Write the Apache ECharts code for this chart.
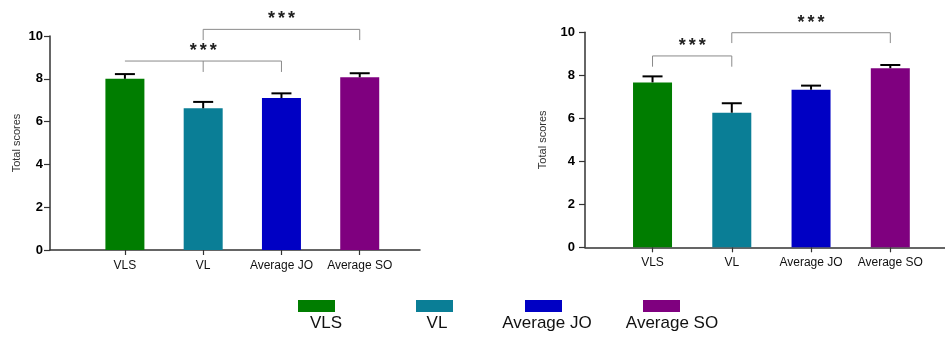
<!DOCTYPE html>
<html>
<head>
<meta charset="utf-8">
<script src="https://cdn.jsdelivr.net/npm/echarts@6/dist/echarts.min.js"></script>
<style>
html,body{margin:0;padding:0;background:#fff;}
#chart{width:945px;height:341px;}
</style>
</head>
<body>
<div id="chart"></div>
<script>
// ---- data ----
const categories = ['VLS', 'VL', 'Average JO', 'Average SO'];
const yTicks = [0, 2, 4, 6, 8, 10];
const leftMeans = [8.0, 6.62, 7.1, 8.07];
const leftUpperErr = [0.22, 0.30, 0.22, 0.19];
const rightMeans = [7.67, 6.26, 7.33, 8.33];
const rightUpperErr = [0.28, 0.44, 0.19, 0.15];
// significance brackets
const leftHLines = [[1, 3, 8.83], [2, 4, 10.31]];
const leftDrops = [[2, 8.83, 8.32], [3, 8.83, 8.32], [2, 10.31, 9.81], [4, 10.31, 9.81]];
const leftStars = [[2, 9.32, '***'], [3, 10.80, '***']];
const rightHLines = [[1, 2, 8.90], [2, 4, 9.98]];
const rightDrops = [[1, 8.90, 8.40], [2, 8.90, 8.40], [2, 9.98, 9.50], [4, 9.98, 9.50]];
const rightStars = [[1.5, 9.38, '***'], [3, 10.45, '***']];

// ---- styles ----
const colors = ['#007d00', '#0a7e96', '#0000c4', '#7f007f'];
const FONT = 'Liberation Sans, Arial, Helvetica, sans-serif';

const chart = echarts.init(document.getElementById('chart'), null, {renderer: 'canvas'});

function xAxisCfg(gridIndex, min, max, margin) {
  return {
    type: 'value', gridIndex, min, max,
    splitLine: {show: false},
    axisLine: {show: true, onZero: false, lineStyle: {color: '#333', width: 1.5}},
    axisTick: {show: true, customValues: [1, 2, 3, 4], length: 5, inside: false, lineStyle: {color: '#333', width: 1.2}},
    axisLabel: {
      customValues: [1, 2, 3, 4],
      formatter: v => categories[Math.round(v) - 1] || '',
      color: '#111', fontSize: 12, fontFamily: FONT, margin
    }
  };
}
function yAxisCfg(gridIndex, nameGap, margin) {
  return {
    type: 'value', gridIndex, min: 0, max: 10, interval: 2,
    name: 'Total scores', nameLocation: 'middle', nameGap,
    nameTextStyle: {color: '#333', fontSize: 11, fontFamily: FONT},
    splitLine: {show: false},
    axisLine: {show: true, lineStyle: {color: '#333', width: 1.5}},
    axisTick: {show: true, length: 6, lineStyle: {color: '#333', width: 1.2}},
    axisLabel: {color: '#000', fontWeight: 'bold', fontSize: 13, fontFamily: FONT, margin,
      formatter: v => yTicks.includes(v) ? String(v) : ''}
  };
}

function barSeries(gridIdx, means) {
  return categories.map((c, i) => ({
    type: 'bar', name: c, xAxisIndex: gridIdx, yAxisIndex: gridIdx,
    data: [[i + 1, means[i]]], barWidth: 39, barGap: '-100%',
    itemStyle: {color: colors[i]}, silent: true
  }));
}
function errSeries(gridIdx, means, errs) {
  return {
    type: 'custom', xAxisIndex: gridIdx, yAxisIndex: gridIdx, z: 5,
    encode: {x: 0, y: [1, 2]},
    data: means.map((m, i) => [i + 1, m, m + errs[i]]),
    renderItem(params, api) {
      const p0 = api.coord([api.value(0), api.value(1)]);
      const p1 = api.coord([api.value(0), api.value(2)]);
      const st = {stroke: '#000', lineWidth: 2};
      return {type: 'group', children: [
        {type: 'line', shape: {x1: p0[0], y1: p0[1], x2: p1[0], y2: p1[1]}, style: st},
        {type: 'line', shape: {x1: p1[0] - 10, y1: p1[1], x2: p1[0] + 10, y2: p1[1]}, style: st}
      ]};
    }
  };
}
function hlineSeries(gridIdx, lines) {
  return {
    type: 'custom', xAxisIndex: gridIdx, yAxisIndex: gridIdx, z: 5, clip: false,
    encode: {x: [0, 1], y: 2}, data: lines,
    renderItem(params, api) {
      const a = api.coord([api.value(0), api.value(2)]);
      const b = api.coord([api.value(1), api.value(2)]);
      return {type: 'line', shape: {x1: a[0], y1: a[1], x2: b[0], y2: b[1]}, style: {stroke: '#8a8a8a', lineWidth: 1}};
    }
  };
}
function dropSeries(gridIdx, drops) {
  return {
    type: 'custom', xAxisIndex: gridIdx, yAxisIndex: gridIdx, z: 5, clip: false,
    encode: {x: 0, y: [1, 2]}, data: drops,
    renderItem(params, api) {
      const a = api.coord([api.value(0), api.value(1)]);
      const b = api.coord([api.value(0), api.value(2)]);
      return {type: 'line', shape: {x1: a[0], y1: a[1], x2: b[0], y2: b[1]}, style: {stroke: '#8a8a8a', lineWidth: 1}};
    }
  };
}
function starSeries(gridIdx, stars) {
  return {
    type: 'custom', xAxisIndex: gridIdx, yAxisIndex: gridIdx, z: 6, clip: false,
    encode: {x: 0, y: 1}, data: stars,
    renderItem(params, api) {
      const p = api.coord([api.value(0), api.value(1)]);
      const txt = stars[params.dataIndex][2].split('').map(ch => '{s|' + ch + '}').join('');
      return {type: 'text', x: p[0], y: p[1], style: {
        text: txt, align: 'center', verticalAlign: 'middle',
        font: 'bold 18px ' + FONT, fill: '#222',
        rich: {s: {font: 'bold 18px ' + FONT, fill: '#222', padding: [0, 1.5, 0, 1.5]}}
      }};
    }
  };
}

const legendLefts = [298, 416, 525, 643];
const legendTextX = [326, 437, 547, 672];

const option = {
  animation: false,
  backgroundColor: '#fff',
  textStyle: {fontFamily: FONT},
  grid: [
    {left: 50, top: 36, bottom: 91, width: 370},
    {left: 585, top: 32.3, bottom: 93.7, right: 0}
  ],
  xAxis: [xAxisCfg(0, 0.043, 4.77, 10), xAxisCfg(1, 0.148, 4.69, 9)],
  yAxis: [yAxisCfg(0, 28, 7), yAxisCfg(1, 37, 10)],
  legend: categories.map((c, i) => ({
    data: [c], left: legendLefts[i], top: 300, padding: 0, itemGap: 0,
    itemWidth: 37, itemHeight: 12, icon: 'rect', selectedMode: false,
    formatter: () => '', textStyle: {fontSize: 1}
  })),
  graphic: categories.map((c, i) => ({
    type: 'text', x: legendTextX[i], y: 323,
    style: {text: c, align: 'center', verticalAlign: 'middle', font: '17px ' + FONT, fill: '#111'}
  })),
  series: [
    ...barSeries(0, leftMeans),
    errSeries(0, leftMeans, leftUpperErr),
    hlineSeries(0, leftHLines),
    dropSeries(0, leftDrops),
    starSeries(0, leftStars),
    ...barSeries(1, rightMeans),
    errSeries(1, rightMeans, rightUpperErr),
    hlineSeries(1, rightHLines),
    dropSeries(1, rightDrops),
    starSeries(1, rightStars)
  ]
};
chart.setOption(option);
</script>
</body>
</html>
